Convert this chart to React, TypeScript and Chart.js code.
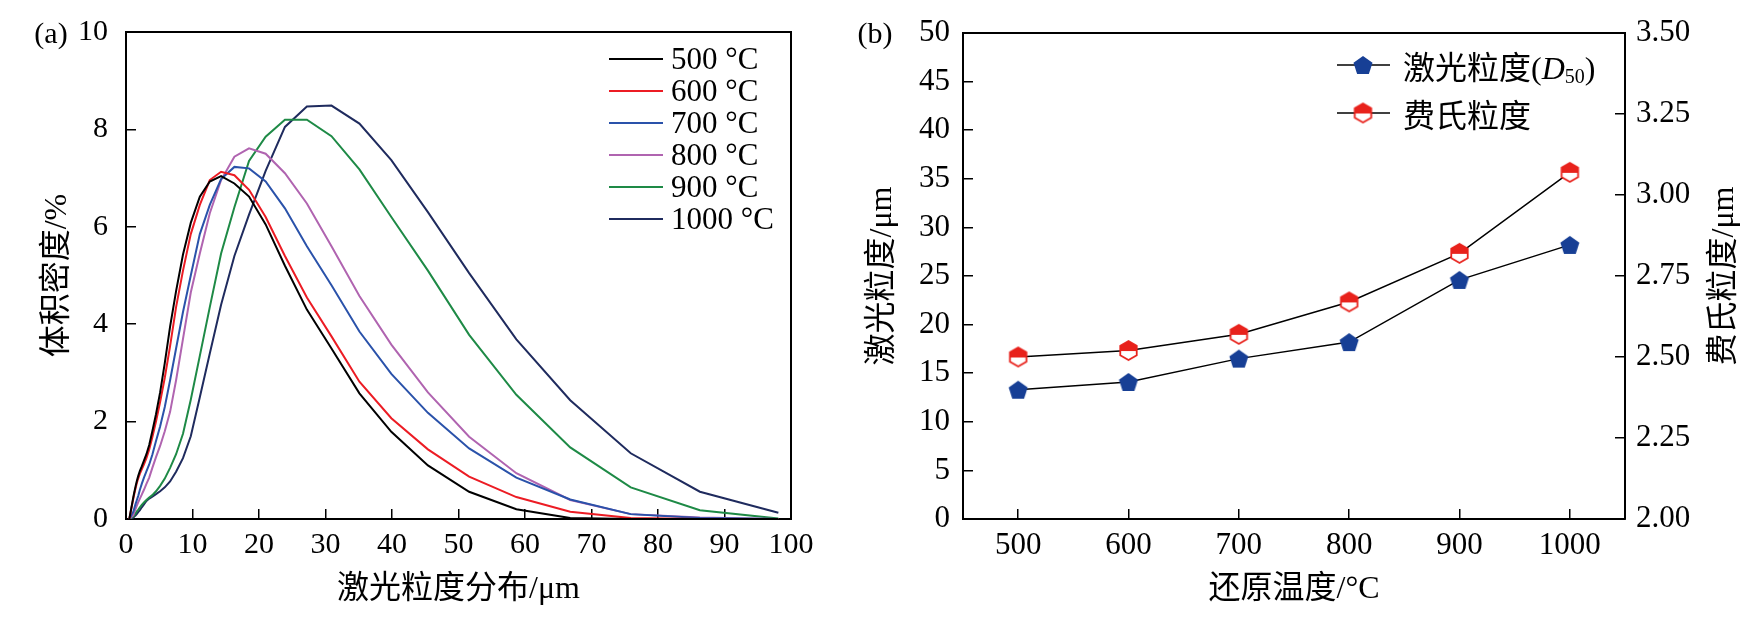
import { useEffect, useRef } from "react";
import Chart from "chart.js/auto";

const serif = "'Liberation Serif', 'Noto Sans CJK SC', serif";

// (a) 激光粒度分布: particle size bins (μm) and volume density (%)
const sizeBins = [0.5, 1.1, 1.25, 1.42, 1.61, 1.83, 2.09, 2.37, 2.7, 3.07, 3.49, 3.96, 4.51, 5.13, 5.83, 6.63, 7.53, 8.57, 9.74, 11.1, 12.6, 14.3, 16.3, 18.5, 21.0, 23.9, 27.2, 30.9, 35.1, 39.9, 45.4, 51.6, 58.7, 66.8, 75.9, 86.3, 98.1];
const dist500 = [0, 0.45, 0.55, 0.66, 0.77, 0.88, 0.99, 1.08, 1.2, 1.33, 1.52, 1.8, 2.15, 2.6, 3.2, 3.95, 4.68, 5.43, 6.08, 6.62, 6.93, 7.04, 6.89, 6.62, 6.05, 5.2, 4.3, 3.5, 2.58, 1.79, 1.1, 0.56, 0.2, 0.02, 0, 0, 0];
const dist600 = [0, 0.42, 0.52, 0.62, 0.73, 0.83, 0.93, 1.02, 1.12, 1.25, 1.43, 1.68, 2.0, 2.4, 2.9, 3.55, 4.35, 5.1, 5.85, 6.45, 6.96, 7.13, 7.06, 6.76, 6.2, 5.4, 4.55, 3.75, 2.82, 2.07, 1.43, 0.87, 0.45, 0.15, 0.02, 0, 0];
const dist700 = [0, 0.15, 0.22, 0.3, 0.38, 0.47, 0.6, 0.72, 0.85, 0.98, 1.12, 1.32, 1.6, 1.9, 2.3, 2.85, 3.5, 4.25, 5.0, 5.85, 6.45, 6.98, 7.23, 7.2, 6.93, 6.38, 5.6, 4.8, 3.85, 2.98, 2.18, 1.45, 0.85, 0.4, 0.1, 0.02, 0];
const dist800 = [0, 0.08, 0.14, 0.2, 0.27, 0.34, 0.42, 0.5, 0.6, 0.72, 0.85, 1.05, 1.27, 1.5, 1.8, 2.2, 2.85, 3.7, 4.65, 5.45, 6.28, 6.96, 7.44, 7.61, 7.5, 7.1, 6.48, 5.6, 4.58, 3.58, 2.6, 1.69, 0.94, 0.39, 0.1, 0.03, 0];
const dist900 = [0, 0.05, 0.08, 0.11, 0.15, 0.19, 0.24, 0.29, 0.34, 0.39, 0.44, 0.49, 0.57, 0.68, 0.83, 1.05, 1.33, 1.75, 2.45, 3.35, 4.35, 5.45, 6.4, 7.35, 7.85, 8.2, 8.2, 7.86, 7.18, 6.2, 5.1, 3.78, 2.55, 1.47, 0.65, 0.18, 0.01];
const dist1000 = [0, 0.03, 0.05, 0.07, 0.1, 0.14, 0.18, 0.24, 0.3, 0.37, 0.42, 0.46, 0.51, 0.57, 0.65, 0.77, 0.97, 1.25, 1.7, 2.5, 3.4, 4.4, 5.4, 6.25, 7.15, 8.05, 8.47, 8.49, 8.12, 7.37, 6.3, 5.05, 3.69, 2.44, 1.35, 0.56, 0.13];
const distLabels = ["500 °C", "600 °C", "700 °C", "800 °C", "900 °C", "1000 °C"];
const distSeries = [dist500, dist600, dist700, dist800, dist900, dist1000];
const distColors = ["#000000", "#ec1c24", "#2a52aa", "#b064b0", "#1e8a46", "#1f2b5e"];

// (b) 还原温度 vs 粒度
const temps = ["500", "600", "700", "800", "900", "1000"];
const laserD50 = [13.3, 14.1, 16.5, 18.2, 24.6, 28.2];
const fisherSize = [2.5, 2.52, 2.57, 2.67, 2.82, 3.07];

// 内向きの目盛り (tickLength を負にする)
const tickGrid = { drawOnChartArea: false, drawTicks: true, tickLength: -10, color: "#000", lineWidth: 1.5 };
const frameOnly = {
  display: true,
  ticks: { display: false },
  grid: { display: true, drawOnChartArea: false, drawTicks: false },
  border: { display: true, color: "#000", width: 2 },
};

// 目盛りラベルのはみ出し分をレイアウトに足さないようにする
function fixSize(key: "width" | "height", value: number) {
  return (s: any) => {
    s[key] = value;
    s.paddingTop = 0;
    s.paddingBottom = 0;
    s.paddingLeft = 0;
    s.paddingRight = 0;
  };
}

function makePentagon(r: number, color: string) {
  const c = document.createElement("canvas");
  const size = Math.ceil(r * 2 + 2);
  c.width = size;
  c.height = size;
  const ctx = c.getContext("2d")!;
  const cx = size / 2;
  const cy = size / 2 + r * 0.095;
  ctx.beginPath();
  for (let k = 0; k < 5; k++) {
    const a = -Math.PI / 2 + (k * 2 * Math.PI) / 5;
    ctx.lineTo(cx + r * Math.cos(a), cy + r * Math.sin(a));
  }
  ctx.closePath();
  ctx.fillStyle = color;
  ctx.fill();
  return c;
}

function makeHalfHex(r: number, color: string) {
  const c = document.createElement("canvas");
  const size = Math.ceil(r * 2 + 4);
  c.width = size;
  c.height = size;
  const ctx = c.getContext("2d")!;
  const cx = size / 2;
  const cy = size / 2;
  const path = () => {
    ctx.beginPath();
    for (let k = 0; k < 6; k++) {
      const a = -Math.PI / 2 + (k * Math.PI) / 3;
      ctx.lineTo(cx + r * Math.cos(a), cy + r * Math.sin(a));
    }
    ctx.closePath();
  };
  path();
  ctx.fillStyle = "#fff";
  ctx.fill();
  ctx.save();
  path();
  ctx.clip();
  ctx.fillStyle = color;
  ctx.fillRect(0, 0, size, cy + 0.5);
  ctx.restore();
  path();
  ctx.strokeStyle = color;
  ctx.lineWidth = 1.8;
  ctx.stroke();
  return c;
}

function DistributionChart() {
  const canvasRef = useRef<HTMLCanvasElement>(null);
  const chartRef = useRef<Chart | null>(null);

  useEffect(() => {
    if (!canvasRef.current) return;
    chartRef.current?.destroy();

    const legendPlugin = {
      id: "legendA",
      afterDraw(chart: any) {
        const { ctx, chartArea } = chart;
        ctx.save();
        chart.data.datasets.forEach((ds: any, i: number) => {
          const y = chartArea.top + 27 + 32 * i;
          ctx.strokeStyle = ds.borderColor;
          ctx.lineWidth = 2;
          ctx.beginPath();
          ctx.moveTo(chartArea.right - 182, y);
          ctx.lineTo(chartArea.right - 128, y);
          ctx.stroke();
          ctx.fillStyle = "#000";
          ctx.font = `31px ${serif}`;
          ctx.textAlign = "left";
          ctx.textBaseline = "alphabetic";
          ctx.fillText(ds.label, chartArea.right - 120, y + 10);
        });
        ctx.font = `30px ${serif}`;
        ctx.textAlign = "center";
        ctx.fillText("(a)", 51, 43);
        ctx.restore();
      },
    };

    chartRef.current = new Chart(canvasRef.current, {
      type: "line",
      data: {
        datasets: distSeries.map((s, i) => ({
          label: distLabels[i],
          data: s.map((v, j) => ({ x: sizeBins[j], y: v })),
          borderColor: distColors[i],
          borderWidth: 2,
          pointRadius: 0,
          tension: 0,
          fill: false,
        })),
      },
      options: {
        responsive: false,
        animation: false,
        layout: { padding: { top: 32, right: 39, left: 0, bottom: 0 } },
        plugins: { legend: { display: false }, tooltip: { enabled: false } },
        scales: {
          x: {
            type: "linear",
            min: 0,
            max: 100,
            ticks: { stepSize: 10, color: "#000", font: { family: serif, size: 30 }, padding: 18, maxRotation: 0 },
            grid: tickGrid,
            border: { color: "#000", width: 2 },
            title: { display: true, text: "激光粒度分布/μm", color: "#000", font: { family: serif, size: 32 }, padding: { bottom: 8 } },
            afterFit: fixSize("height", 98),
          },
          y: {
            min: 0,
            max: 10,
            ticks: { stepSize: 2, color: "#000", font: { family: serif, size: 30 }, padding: 28 },
            grid: tickGrid,
            border: { color: "#000", width: 2 },
            title: { display: true, text: "体积密度/%", color: "#000", font: { family: serif, size: 32 }, padding: { top: 38 } },
            afterFit: fixSize("width", 126),
          },
          xTop: { ...frameOnly, type: "linear", position: "top", min: 0, max: 100, afterFit: fixSize("height", 0) },
          yRight: { ...frameOnly, type: "linear", position: "right", min: 0, max: 10, afterFit: fixSize("width", 0) },
        },
      } as any,
      plugins: [legendPlugin],
    });

    return () => {
      chartRef.current?.destroy();
      chartRef.current = null;
    };
  }, []);

  return (
    <canvas
      ref={canvasRef}
      width={830}
      height={617}
      style={{ position: "absolute", left: 0, top: 0, width: 830, height: 617 }}
    />
  );
}

function TemperatureChart() {
  const canvasRef = useRef<HTMLCanvasElement>(null);
  const chartRef = useRef<Chart | null>(null);

  useEffect(() => {
    if (!canvasRef.current) return;
    chartRef.current?.destroy();

    const pentagon = makePentagon(10, "#173f95");
    const halfHex = makeHalfHex(9.5, "#e8221c");

    const legendPlugin = {
      id: "legendB",
      afterDraw(chart: any) {
        const { ctx, chartArea } = chart;
        ctx.save();
        const rows = [
          { y: chartArea.top + 32, img: pentagon },
          { y: chartArea.top + 80, img: halfHex },
        ];
        const lx = chartArea.left + 374;
        rows.forEach((r) => {
          ctx.strokeStyle = "#000";
          ctx.lineWidth = 1.5;
          ctx.beginPath();
          ctx.moveTo(lx, r.y);
          ctx.lineTo(lx + 53, r.y);
          ctx.stroke();
          ctx.drawImage(r.img, lx + 26 - r.img.width / 2, r.y - r.img.height / 2);
        });
        ctx.fillStyle = "#000";
        ctx.textAlign = "left";
        ctx.textBaseline = "alphabetic";
        let tx = lx + 66;
        const b1 = rows[0].y + 14;
        ctx.font = `32px ${serif}`;
        ctx.fillText("激光粒度(", tx, b1);
        tx += ctx.measureText("激光粒度(").width;
        ctx.font = `italic 32px ${serif}`;
        ctx.fillText("D", tx, b1);
        tx += ctx.measureText("D").width;
        ctx.font = `20px ${serif}`;
        ctx.fillText("50", tx, b1 + 4);
        tx += ctx.measureText("50").width;
        ctx.font = `32px ${serif}`;
        ctx.fillText(")", tx, b1);
        ctx.fillText("费氏粒度", lx + 66, rows[1].y + 14);

        // 右軸タイトル (下から上へ)
        ctx.save();
        ctx.translate(chartArea.right + 100, (chartArea.top + chartArea.bottom) / 2);
        ctx.rotate(-Math.PI / 2);
        ctx.textAlign = "center";
        ctx.textBaseline = "middle";
        ctx.fillText("费氏粒度/μm", 0, 0);
        ctx.restore();

        ctx.font = `30px ${serif}`;
        ctx.textAlign = "center";
        ctx.fillText("(b)", 45, 43);
        ctx.restore();
      },
    };

    chartRef.current = new Chart(canvasRef.current, {
      type: "line",
      data: {
        labels: temps,
        datasets: [
          {
            label: "激光粒度(D50)",
            data: laserD50,
            yAxisID: "y",
            borderColor: "#000",
            borderWidth: 1.5,
            pointStyle: pentagon,
            pointRadius: 10,
            tension: 0,
          },
          {
            label: "费氏粒度",
            data: fisherSize,
            yAxisID: "y1",
            borderColor: "#000",
            borderWidth: 1.5,
            pointStyle: halfHex,
            pointRadius: 10,
            tension: 0,
          },
        ],
      },
      options: {
        responsive: false,
        animation: false,
        layout: { padding: { top: 33, right: 0, left: 0, bottom: 0 } },
        plugins: { legend: { display: false }, tooltip: { enabled: false } },
        scales: {
          x: {
            type: "category",
            offset: true,
            ticks: { color: "#000", font: { family: serif, size: 31 }, padding: 18, maxRotation: 0 },
            grid: { ...tickGrid, offset: false },
            border: { color: "#000", width: 2 },
            title: { display: true, text: "还原温度/°C", color: "#000", font: { family: serif, size: 32 }, padding: { bottom: 8 } },
            afterFit: fixSize("height", 98),
          },
          y: {
            position: "left",
            min: 0,
            max: 50,
            ticks: { stepSize: 5, color: "#000", font: { family: serif, size: 31 }, padding: 23 },
            grid: tickGrid,
            border: { color: "#000", width: 2 },
            title: { display: true, text: "激光粒度/μm", color: "#000", font: { family: serif, size: 32 }, padding: { top: 33 } },
            afterFit: fixSize("width", 133),
          },
          y1: {
            position: "right",
            min: 2.0,
            max: 3.5,
            ticks: {
              stepSize: 0.25,
              color: "#000",
              font: { family: serif, size: 31 },
              padding: 21,
              callback: (v: any) => Number(v).toFixed(2),
            },
            grid: tickGrid,
            border: { color: "#000", width: 2 },
            afterFit: fixSize("width", 134),
          },
          xTop: { ...frameOnly, type: "linear", position: "top", min: 0, max: 1, afterFit: fixSize("height", 0) },
        },
      } as any,
      plugins: [legendPlugin],
    });

    return () => {
      chartRef.current?.destroy();
      chartRef.current = null;
    };
  }, []);

  return (
    <canvas
      ref={canvasRef}
      width={929}
      height={617}
      style={{ position: "absolute", left: 830, top: 0, width: 929, height: 617 }}
    />
  );
}

export default function App() {
  return (
    <div style={{ position: "absolute", left: 0, top: 0, width: 1759, height: 617, background: "#fff", overflow: "hidden" }}>
      <DistributionChart />
      <TemperatureChart />
    </div>
  );
}
